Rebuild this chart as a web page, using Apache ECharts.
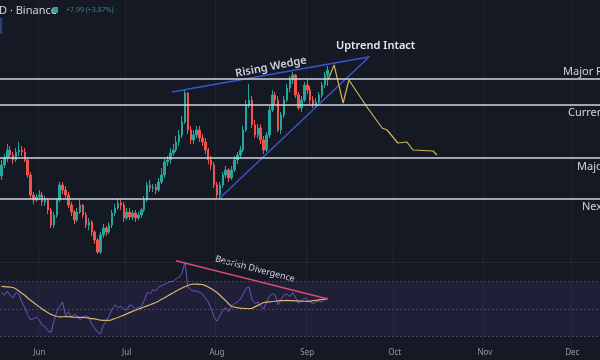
<!DOCTYPE html>
<html><head><meta charset="utf-8">
<script src="https://cdn.jsdelivr.net/npm/echarts@6/dist/echarts.min.js"></script>
<style>html,body{margin:0;padding:0;background:#151924;overflow:hidden}#c{width:600px;height:360px}</style>
</head><body><div id="c"></div>
<script>
// ---- data ----
const startDate = '2024-05-19';
const dayCount = 206;
const monthTicks = { '06-01': 'Jun', '07-01': 'Jul', '08-01': 'Aug', '09-01': 'Sep', '10-01': 'Oct', '11-01': 'Nov', '12-01': 'Dec' };

const opens = [
  142, 147.5, 151, 155, 152.5, 150, 154, 155, 154, 150,
  142.5, 132.5, 130, 131.5, 132.5, 129, 130, 125, 117.5, 122.5,
  130, 137.5, 135, 132.5, 127.5, 124, 120, 124, 127.5, 122.5,
  117.5, 119, 114, 110, 104, 112.5, 116, 114, 117.5, 123.5,
  126, 128.5, 127.5, 121, 124, 121.5, 123.5, 121, 122.5, 125,
  130, 137.5, 136, 136.5, 135, 139, 142.5, 149, 150, 153.5,
  155, 159, 162.5, 169, 183.5, 165, 160, 162.5, 165, 161,
  159, 155, 150, 147.5, 137.5, 132.5, 137.5, 142.5, 145, 141,
  145, 150, 152.5, 155, 165, 177.5, 180, 167.5, 162.5, 166,
  160, 155, 162.5, 175, 182.5, 180, 165, 172.5, 180, 186,
  190, 192.5, 182.5, 176, 180, 187.5, 185, 180, 177.5, 179,
  182.5, 187.5, 192.5
];
const closes = [
  147.5, 151, 155, 152.5, 150, 154, 155, 154, 150, 142.5,
  132.5, 130, 131.5, 132.5, 129, 130, 125, 117.5, 122.5, 130,
  137.5, 135, 132.5, 127.5, 124, 120, 124, 127.5, 122.5, 117.5,
  119, 114, 110, 104, 112.5, 116, 114, 117.5, 123.5, 126,
  128.5, 127.5, 121, 124, 121.5, 123.5, 121, 122.5, 125, 130,
  137.5, 136, 136.5, 135, 139, 142.5, 149, 150, 153.5, 155,
  159, 162.5, 169, 183.5, 165, 160, 162.5, 165, 161, 159,
  155, 150, 147.5, 137.5, 132.5, 137.5, 142.5, 145, 141, 145,
  150, 152.5, 155, 165, 177.5, 180, 167.5, 162.5, 166, 160,
  155, 162.5, 175, 182.5, 180, 165, 172.5, 180, 186, 190,
  192.5, 182.5, 176, 180, 187.5, 185, 180, 177.5, 179, 182.5,
  187.5, 192.5, 195
];
const lows = [
  140, 146, 149, 151, 148, 149, 152, 152, 149, 141,
  131, 128, 129, 130, 127, 127, 123, 116, 116, 121,
  129, 133, 131, 126, 122, 118, 119, 123, 121, 116,
  115, 112, 108, 103, 103, 111, 112, 113, 116, 122,
  125, 125, 119, 120, 120, 120, 119, 120, 121, 124,
  129, 134, 134, 133, 134, 138, 141, 147, 148, 152,
  154, 157, 161, 168, 163, 158, 158, 161, 159, 157,
  153, 148, 145, 136, 131, 131, 136, 141, 139, 140,
  144, 148, 151, 154, 164, 176, 166, 161, 161, 158,
  153, 154, 161, 174, 178, 164, 163, 171, 179, 184,
  188, 181, 175, 174, 179, 183, 178, 176, 176, 178,
  181, 186, 187
];
const highs = [
  150, 153, 158, 157, 154, 156, 159, 157, 156, 151,
  144, 134, 133, 135, 134, 132, 131, 126, 124, 131,
  139, 139, 137, 134, 129, 125, 126, 130, 128, 124,
  121, 120, 115, 111, 114, 118, 117, 119, 125, 128,
  131, 130, 129, 126, 126, 125, 125, 124, 126, 132,
  139, 140, 138, 138, 141, 146, 151, 152, 156, 158,
  162, 165, 172, 185, 184, 167, 165, 167, 167, 163,
  161, 156, 152, 149, 139, 139, 144, 147, 146, 147,
  152, 154, 157, 167, 180, 188, 182, 170, 168, 168,
  162, 164, 177, 185, 184, 182, 174, 182, 188, 192,
  194, 193, 184, 182, 189, 190, 187, 182, 181, 184,
  189, 194, 197
];
const rsi = [
  62, 60, 63, 60, 58, 62, 61, 55, 51, 46,
  42, 43, 44, 42, 38, 37, 34, 33, 41, 48,
  52, 55, 45, 48, 44, 46, 45, 42, 44, 45,
  44, 39, 36, 33, 32, 38, 41, 45, 50, 53,
  51, 52, 50, 49, 53, 52, 50, 51, 52, 56,
  62, 61, 64, 63, 66, 67, 68, 69, 70, 70,
  72, 73, 76, 84, 66, 64, 63, 63, 62, 61,
  58, 55, 50, 44, 41, 45, 49, 51, 48, 52,
  54, 55, 57, 61, 65, 66, 57, 54, 55, 52,
  50, 55, 59, 61, 60, 53, 57, 60, 61, 59,
  62, 58, 54, 56, 58, 57, 55, 54, 55, 56,
  55, 57, 58
];
const rsiMA = [
  66.4, 66.3, 66.1, 65.9, 65.6, 64.5, 63, 61.5, 60, 58,
  56.3, 54.7, 53, 51.5, 50, 48.5, 47.2, 46, 45.2, 44.5,
  44.2, 44.3, 44.5, 44.4, 44.2, 44, 43.9, 43.8, 43.8, 43.6,
  43.3, 43, 42.7, 42.3, 41.9, 41.7, 41.6, 41.6, 42.2, 43,
  43.8, 44.7, 45.5, 46.4, 47.3, 48.2, 49, 49.8, 50.6, 51.4,
  52.2, 53, 53.9, 54.7, 55.8, 57, 58.2, 59.4, 60.6, 61.8,
  63, 64.2, 65.2, 66.2, 67.1, 67.8, 68, 68, 67.9, 67.8,
  67, 66, 64.8, 63.4, 62, 60, 58, 56, 53.8, 51.8,
  51.3, 50.9, 50.6, 50.4, 50.3, 50.3, 50.4, 51.5, 52.6, 53.6,
  54.7, 55, 55.2, 55.4, 55.6, 55.8, 56, 56.1, 56.2, 56.1,
  56, 55.9, 55.8, 55.7, 55.6, 55.5, 55.7, 56, 56.3, 56.6,
  56.9, 57.1, 57.3
];
const levels = [190.5, 177.5, 151, 130.5];
const levelNames = ['Major Resistance', 'Current Support', 'Major Support', 'Next Support'];
const wedgeUpper = [[59.0, 184], [127.0, 201.6]];
const wedgeLower = [[75.5, 131], [126.3, 201]];
const projection = [[112.6, 190], [114.7, 197.5], [117.8, 178.5], [119.8, 190], [126, 176.5], [131.2, 166], [132.9, 165], [136.6, 158.5], [139.7, 159], [141.8, 155], [148.7, 154.5], [150, 152.5]];
const divergence = [[60.4, 85.1], [112.6, 57.2]];

// ---- build ----
const cats = [];
const d0 = new Date(startDate + 'T00:00:00Z');
for (let i = 0; i < dayCount; i++) {
  const d = new Date(d0.getTime() + i * 86400000);
  cats.push(String(d.getUTCMonth() + 1).padStart(2, '0') + '-' + String(d.getUTCDate()).padStart(2, '0'));
}
const candles = opens.map((o, i) => [o, closes[i], lows[i], highs[i]]);
const isMonth = (idx, v) => monthTicks[v] !== undefined;
const FONT = 'Noto Sans';
const gridLineColor = 'rgba(255,255,255,0.045)';

const chart = echarts.init(document.getElementById('c'));
chart.setOption({
  backgroundColor: '#151924',
  animation: false,
  grid: [
    { left: 0, right: 0, top: 0, height: 260 },
    { left: 0, right: 0, top: 254, height: 103 },
    { left: 0, right: 0, top: 338, height: 6 }
  ],
  xAxis: [
    { type: 'category', gridIndex: 0, data: cats, axisLine: { show: false }, axisTick: { show: false }, axisLabel: { show: false },
      splitLine: { show: true, interval: isMonth, lineStyle: { color: gridLineColor } } },
    { type: 'value', gridIndex: 0, min: 0, max: dayCount, show: false },
    { type: 'category', gridIndex: 1, data: cats, axisLine: { show: false }, axisTick: { show: false }, axisLabel: { show: false },
      splitLine: { show: true, interval: isMonth, lineStyle: { color: gridLineColor } } },
    { type: 'value', gridIndex: 1, min: 0, max: dayCount, show: false },
    { type: 'category', gridIndex: 2, data: cats, axisLine: { show: false }, axisTick: { show: false },
      axisLabel: { interval: isMonth, formatter: v => monthTicks[v] || '', color: '#9598a1', fontSize: 8, fontFamily: FONT, margin: 5 } }
  ],
  yAxis: [
    { type: 'value', gridIndex: 0, min: 100, max: 230, show: false },
    { type: 'value', gridIndex: 1, min: 15, max: 90, show: false },
    { type: 'value', gridIndex: 2, show: false }
  ],
  series: [
    { type: 'candlestick', xAxisIndex: 0, yAxisIndex: 0, data: candles, barWidth: '68%',
      itemStyle: { color: '#26a69a', color0: '#ef5350', borderColor: '#26a69a', borderColor0: '#ef5350', borderWidth: 1 },
      markLine: { silent: true, symbol: 'none', label: { show: false },
        lineStyle: { color: '#d1d4dc', width: 1.6, type: 'solid' },
        data: levels.map(v => ({ yAxis: v })) } },
    { type: 'line', xAxisIndex: 1, yAxisIndex: 0, data: wedgeUpper, symbol: 'none', lineStyle: { color: '#3656d0', width: 1.5 } },
    { type: 'line', xAxisIndex: 1, yAxisIndex: 0, data: wedgeLower, symbol: 'none', lineStyle: { color: '#3656d0', width: 1.5 } },
    { type: 'line', xAxisIndex: 1, yAxisIndex: 0, data: projection, symbol: 'none', lineStyle: { color: '#cdb55a', width: 1.2 } },
    { type: 'line', xAxisIndex: 2, yAxisIndex: 1, data: rsi, symbol: 'none', lineStyle: { color: '#6a55c0', width: 1 },
      markArea: { silent: true, itemStyle: { color: 'rgba(110,80,190,0.13)' }, data: [[{ yAxis: 30 }, { yAxis: 70 }]] },
      markLine: { silent: true, symbol: 'none', label: { show: false },
        lineStyle: { color: 'rgba(140,140,170,0.35)', type: [2, 2], width: 1 },
        data: [{ yAxis: 70 }, { yAxis: 50 }, { yAxis: 30 }] } },
    { type: 'line', xAxisIndex: 2, yAxisIndex: 1, data: rsiMA, symbol: 'none', lineStyle: { color: '#d9b26c', width: 1.2 } },
    { type: 'line', xAxisIndex: 3, yAxisIndex: 1, data: divergence, symbol: 'none', lineStyle: { color: '#d94a6c', width: 1.5 } }
  ],
  graphic: [
    { type: 'rect', shape: { x: 0, y: 262, width: 600, height: 1 }, style: { fill: '#232733' }, z: 1 },
    { type: 'text', x: -1, y: 5, style: { text: 'D · Binance', fill: '#d1d4dc', font: '11px "Noto Sans"' } },
    { type: 'rect', shape: { x: 53, y: 7, width: 5, height: 6 }, style: { fill: '#26a69a' } },
    { type: 'text', x: 66, y: 6, style: { text: '+7.99 (+3.87%)', fill: '#2f8f83', font: '7px "Noto Sans"' } },
    { type: 'rect', shape: { x: 0, y: 18, width: 2, height: 16 }, style: { fill: '#2a3f7a' } },
    { type: 'text', x: 336, y: 46, style: { text: 'Uptrend Intact', fill: '#e6e8ee', font: '600 11px "Noto Sans"', verticalAlign: 'middle' } },
    { type: 'text', x: 271, y: 67, rotation: 0.19, style: { text: 'Rising Wedge', fill: '#d1d4dc', font: '600 11px "Noto Sans"', align: 'center', verticalAlign: 'middle' } },
    { type: 'text', x: 255, y: 269, rotation: -0.255, style: { text: 'Bearish Divergence', fill: '#d1d4dc', font: '9px "Noto Sans"', align: 'center', verticalAlign: 'middle' } },
    { type: 'text', x: 563, y: 66, style: { text: levelNames[0], fill: '#d1d4dc', font: '11px "Noto Sans"' } },
    { type: 'text', x: 568, y: 107, style: { text: levelNames[1], fill: '#d1d4dc', font: '11px "Noto Sans"' } },
    { type: 'text', x: 577, y: 161, style: { text: levelNames[2], fill: '#d1d4dc', font: '11px "Noto Sans"' } },
    { type: 'text', x: 582, y: 201, style: { text: levelNames[3], fill: '#d1d4dc', font: '11px "Noto Sans"' } }
  ]
});
</script></body></html>
